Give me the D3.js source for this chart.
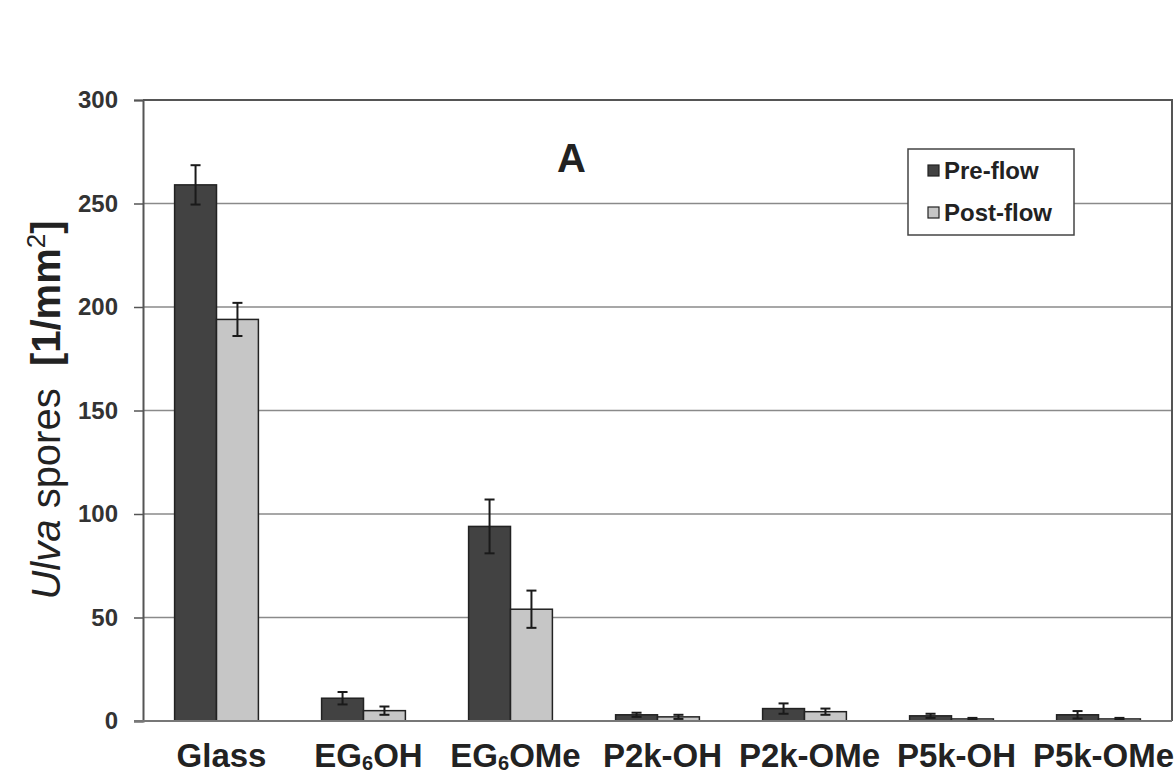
<!DOCTYPE html>
<html>
<head>
<meta charset="utf-8">
<script src="https://cdn.jsdelivr.net/npm/d3@7"></script>
<style>
  body { margin: 0; background: #fff; }
  svg { font-family: "Liberation Sans", Arial, sans-serif; }
</style>
</head>
<body>
<div id="chart"></div>
<script>
// data
const categories = ["Glass", "EG6OH", "EG6OMe", "P2k-OH", "P2k-OMe", "P5k-OH", "P5k-OMe"];
const preFlow  = [259, 11, 94, 3, 6, 2.5, 3];
const preErr   = [9.5, 3, 13, 1, 2.5, 1, 1.8];
const postFlow = [194, 5, 54, 2, 4.5, 1, 1];
const postErr  = [8, 2, 9, 1, 1.5, 0.5, 0.5];
const seriesNames = ["Pre-flow", "Post-flow"];
const yTicks = [0, 50, 100, 150, 200, 250, 300];

const W = 1176, H = 774;
const m = { top: 100, right: 4, bottom: 53, left: 143 };
const innerW = W - m.left - m.right, innerH = H - m.top - m.bottom;

const svg = d3.select("#chart").append("svg").attr("width", W).attr("height", H);
const g = svg.append("g").attr("transform", `translate(${m.left},${m.top})`);

const x = d3.scaleBand().domain(categories).range([0, innerW]).paddingInner(0.43).paddingOuter(0.215);
const xs = d3.scaleBand().domain(seriesNames).range([0, x.bandwidth()]);
const y = d3.scaleLinear().domain([0, 300]).range([innerH, 0]);

const colors = { "Pre-flow": "#424242", "Post-flow": "#c6c6c6" };

// gridlines
g.selectAll(".grid").data(yTicks.filter(d => d > 0 && d < 300)).join("line")
  .attr("x1", 0).attr("x2", innerW)
  .attr("y1", d => y(d)).attr("y2", d => y(d))
  .attr("stroke", "#8a8a8a").attr("stroke-width", 1.5);

// top + right border
g.append("path")
  .attr("d", `M0,${y(300)}H${innerW}V${innerH}`)
  .attr("fill", "none").attr("stroke", "#555").attr("stroke-width", 2);

// y axis
const yAxis = g.append("g")
  .call(d3.axisLeft(y).tickValues(yTicks).tickSize(9).tickPadding(16).tickFormat(d3.format("d")));
yAxis.select(".domain").attr("stroke", "#555").attr("stroke-width", 2);
yAxis.selectAll(".tick line").attr("stroke", "#555").attr("stroke-width", 1.5);
yAxis.selectAll("text").attr("font-size", 24).attr("font-weight", "bold").attr("fill", "#333")
  .attr("font-family", "Liberation Sans, Arial, sans-serif");

// bars
const rows = categories.map((c, i) => ({
  cat: c,
  vals: [
    { s: "Pre-flow", v: preFlow[i], e: preErr[i] },
    { s: "Post-flow", v: postFlow[i], e: postErr[i] }
  ]
}));

const grp = g.selectAll(".grp").data(rows).join("g")
  .attr("transform", d => `translate(${x(d.cat)},0)`);

grp.selectAll("rect").data(d => d.vals).join("rect")
  .attr("x", d => xs(d.s))
  .attr("width", xs.bandwidth())
  .attr("y", d => y(d.v))
  .attr("height", d => y(0) - y(d.v))
  .attr("fill", d => colors[d.s])
  .attr("stroke", "#222").attr("stroke-width", 1.5);

// error bars
const cap = 5;
const eb = grp.selectAll(".err").data(d => d.vals).join("g")
  .attr("transform", d => `translate(${xs(d.s) + xs.bandwidth() / 2},0)`)
  .attr("stroke", "#1a1a1a").attr("stroke-width", 2);
eb.append("line")
  .attr("y1", d => y(d.v + d.e)).attr("y2", d => y(Math.max(0, d.v - d.e)));
eb.append("line")
  .attr("x1", -cap).attr("x2", cap)
  .attr("y1", d => y(d.v + d.e)).attr("y2", d => y(d.v + d.e));
eb.append("line")
  .attr("x1", -cap).attr("x2", cap)
  .attr("y1", d => y(Math.max(0, d.v - d.e))).attr("y2", d => y(Math.max(0, d.v - d.e)));

// baseline
g.append("line").attr("x1", -9).attr("x2", innerW)
  .attr("y1", innerH).attr("y2", innerH)
  .attr("stroke", "#777").attr("stroke-width", 2);

// x labels (digit 6 as subscript)
const xl = g.selectAll(".xl").data(categories).join("text")
  .attr("x", d => x(d) + x.bandwidth() / 2 + 5)
  .attr("y", innerH + 46)
  .attr("text-anchor", "middle")
  .attr("font-size", 33).attr("font-weight", "bold").attr("fill", "#222");
xl.each(function(d) {
  const t = d3.select(this);
  const mm = d.match(/^EG6(.*)$/);
  if (mm) {
    t.append("tspan").text("EG");
    t.append("tspan").text("6").attr("font-size", 20).attr("dy", 3);
    t.append("tspan").text(mm[1]).attr("dy", -3);
  } else {
    t.text(d);
  }
});

// panel letter
g.append("text").attr("x", x("EG6OMe") + x.bandwidth() / 2 + 61).attr("y", 72)
  .attr("text-anchor", "middle").attr("font-size", 40).attr("font-weight", "bold").attr("fill", "#222")
  .text("A");

// legend
const lg = svg.append("g").attr("transform", "translate(908,149)");
lg.append("rect").attr("width", 166).attr("height", 86)
  .attr("fill", "#fff").attr("stroke", "#444").attr("stroke-width", 1.5);
seriesNames.forEach((s, i) => {
  const yy = 21 + i * 42;
  lg.append("rect").attr("x", 20).attr("y", yy - 5).attr("width", 11).attr("height", 11)
    .attr("fill", colors[s]).attr("stroke", "#222").attr("stroke-width", 1.2);
  lg.append("text").attr("x", 36).attr("y", yy).attr("dy", "0.36em")
    .attr("font-size", 24).attr("font-weight", "bold").attr("fill", "#222").text(s);
});

// y title
const yt = svg.append("text")
  .attr("transform", `translate(60,410) rotate(-90)`)
  .attr("text-anchor", "middle").attr("font-size", 40).attr("fill", "#222");
yt.append("tspan").text("Ulva").attr("font-style", "italic");
yt.append("tspan").text(" spores\u00a0\u00a0");
yt.append("tspan").text("[1/mm").attr("font-weight", "bold");
yt.append("tspan").text("2").attr("font-size", 26).attr("dy", -15);
yt.append("tspan").text("]").attr("font-weight", "bold").attr("dy", 15);
</script>
</body>
</html>
